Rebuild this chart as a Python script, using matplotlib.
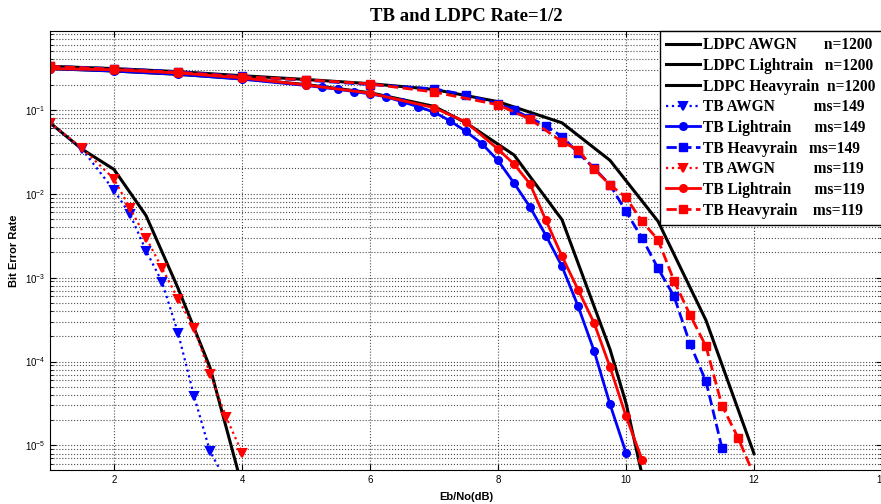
import matplotlib
matplotlib.use("Agg")
import matplotlib.pyplot as plt
from matplotlib.ticker import LogLocator, NullFormatter

# ---- data ----
x_ldpc_awgn = [1, 1.5, 2, 2.5, 3, 3.5, 4]
ber_ldpc_awgn = [0.07, 0.034, 0.0195, 0.0055, 7.5e-4, 8.5e-5, 3.3e-6]

x_ldpc_light = [1, 2, 3, 4, 5, 6, 7, 7.5, 8.25, 9, 9.75, 10, 10.25]
ber_ldpc_light = [0.31, 0.29, 0.265, 0.235, 0.2, 0.16, 0.11, 0.07, 0.029,
                  0.0049, 1.4e-4, 3.2e-5, 4.5e-6]

x_ldpc_heavy = [1, 2, 3, 4, 5, 6, 7, 8, 9, 9.75, 10.5, 11.25, 12]
ber_ldpc_heavy = [0.33, 0.31, 0.285, 0.255, 0.23, 0.205, 0.175, 0.125, 0.07,
                  0.025, 0.0047, 3.1e-4, 8e-6]

x_awgn_149 = [1, 1.5, 2, 2.25, 2.5, 2.75, 3, 3.25, 3.5, 3.75]
ber_awgn_149 = [0.07, 0.034, 0.011, 0.0057, 0.0021, 8.9e-4, 2.2e-4, 3.9e-5,
                8.5e-6, 3.8e-6]

x_awgn_119 = [1, 1.5, 2, 2.25, 2.5, 2.75, 3, 3.25, 3.5, 3.75, 4]
ber_awgn_119 = [0.07, 0.035, 0.015, 0.0067, 0.003, 0.0013, 5.6e-4, 2.5e-4,
                7.2e-5, 2.2e-5, 8.2e-6]

x_light_149 = [1, 2, 3, 4, 5, 5.25, 5.5, 5.75, 6, 6.25, 6.5, 6.75, 7, 7.25,
               7.5, 7.75, 8, 8.25, 8.5, 8.75, 9, 9.25, 9.5, 9.75, 10]
ber_light_149 = [0.31, 0.29, 0.265, 0.232, 0.195, 0.185, 0.176, 0.165, 0.155,
                 0.143, 0.125, 0.109, 0.094, 0.074, 0.0552, 0.0394, 0.0249,
                 0.0134, 0.00695, 0.00316, 0.00136, 4.6e-4, 1.35e-4, 3.1e-5,
                 8.2e-6]

x_light_119 = [1, 2, 3, 4, 5, 6, 7, 7.5, 8, 8.25, 8.5, 8.75, 9, 9.25, 9.5,
               9.75, 10, 10.25]
ber_light_119 = [0.31, 0.3, 0.275, 0.24, 0.198, 0.158, 0.106, 0.0714, 0.034,
                 0.0226, 0.0131, 0.0048, 0.0018, 7.2e-4, 2.9e-4, 8.6e-5,
                 2.23e-5, 6.8e-6]

x_heavy_149 = [1, 2, 3, 4, 5, 6, 7, 7.5, 8, 8.25, 8.5, 8.75, 9, 9.25, 9.5,
               9.75, 10, 10.25, 10.5, 10.75, 11, 11.25, 11.5]
ber_heavy_149 = [0.33, 0.31, 0.285, 0.25, 0.225, 0.2, 0.178, 0.151, 0.118,
                 0.1, 0.08, 0.0645, 0.048, 0.0308, 0.0202, 0.0128, 0.00615,
                 0.00297, 0.00129, 6.0e-4, 1.63e-4, 5.8e-5, 9.3e-6]

x_heavy_119 = [1, 2, 3, 4, 5, 6, 7, 8, 8.5, 9, 9.25, 9.5, 9.75, 10, 10.25,
               10.5, 10.75, 11, 11.25, 11.5, 11.75, 12]
ber_heavy_119 = [0.33, 0.305, 0.28, 0.248, 0.228, 0.204, 0.163, 0.115,
                 0.0775, 0.0416, 0.0334, 0.0197, 0.0128, 0.00903, 0.00468,
                 0.00283, 9.2e-4, 3.6e-4, 1.52e-4, 2.98e-5, 1.24e-5, 4.4e-6]

labels = [
    'LDPC AWGN       n=1200',
    'LDPC Lightrain   n=1200',
    'LDPC Heavyrain  n=1200',
    'TB AWGN          ms=149',
    'TB Lightrain      ms=149',
    'TB Heavyrain   ms=149',
    'TB AWGN          ms=119',
    'TB Lightrain      ms=119',
    'TB Heavyrain    ms=119',
]

fig = plt.figure(figsize=(8.81, 5.04), dpi=100)
ax = fig.add_axes([50 / 881, 34 / 504, 832 / 881, 439 / 504])

ax.semilogy(x_ldpc_awgn, ber_ldpc_awgn, '-', color='black', lw=2.2, label=labels[0])
ax.semilogy(x_ldpc_light, ber_ldpc_light, '-', color='black', lw=2.2, label=labels[1])
ax.semilogy(x_ldpc_heavy, ber_ldpc_heavy, '-', color='black', lw=2.2, label=labels[2])

ax.semilogy(x_awgn_149, ber_awgn_149, ':', color='blue', lw=1.6, marker='v',
            ms=6, mew=1.5, label=labels[3])
ax.semilogy(x_light_149, ber_light_149, '-', color='blue', lw=2, marker='o',
            ms=5.5, label=labels[4])
ax.semilogy(x_heavy_149, ber_heavy_149, '--', color='blue', lw=2, marker='s',
            ms=5.5, label=labels[5])

ax.semilogy(x_awgn_119, ber_awgn_119, ':', color='red', lw=1.6, marker='v',
            ms=6, mew=1.5, label=labels[6])
ax.semilogy(x_light_119, ber_light_119, '-', color='red', lw=2, marker='o',
            ms=5.5, label=labels[7])
ax.semilogy(x_heavy_119, ber_heavy_119, '--', color='red', lw=2, marker='s',
            ms=6, label=labels[8])

ax.set_xlim(1, 14)
ax.set_ylim(5.1e-6, 0.87)
ax.set_xticks([2, 4, 6, 8, 10, 12, 14])
ax.yaxis.set_major_locator(LogLocator(base=10, numticks=10))
ax.yaxis.set_minor_locator(LogLocator(base=10, subs=range(2, 10), numticks=20))
ax.yaxis.set_minor_formatter(NullFormatter())

ax.grid(True, which='major', linestyle=':', color='0.3', lw=0.8)
ax.grid(True, which='minor', axis='y', linestyle=':', color='0.3', lw=0.8)
ax.tick_params(which='both', direction='in', top=True, right=True,
               labelsize=7, colors='black')
ax.tick_params(which='major', length=4)
ax.tick_params(which='minor', length=2)
for lab in ax.get_xticklabels() + ax.get_yticklabels():
    lab.set_fontfamily('Liberation Sans')

ax.set_title('TB and LDPC Rate=1/2', fontfamily='Liberation Serif',
             fontweight='bold', fontsize=13.5, pad=7)
ax.set_xlabel('Eb/No(dB)', fontfamily='Liberation Sans', fontweight='bold',
              fontsize=8, labelpad=5)
ax.set_ylabel('Bit Error Rate', fontfamily='Liberation Sans', fontweight='bold',
              fontsize=8, labelpad=4)

leg = ax.legend(loc='upper right', borderaxespad=0, fancybox=False,
                framealpha=1, edgecolor='black', handlelength=2.2,
                handletextpad=0.2, labelspacing=0.3, borderpad=0.4,
                prop={'family': 'Liberation Serif', 'weight': 'bold', 'size': 11.2})
leg.get_frame().set_linewidth(1.0)

fig.savefig('out.png', dpi=100)
